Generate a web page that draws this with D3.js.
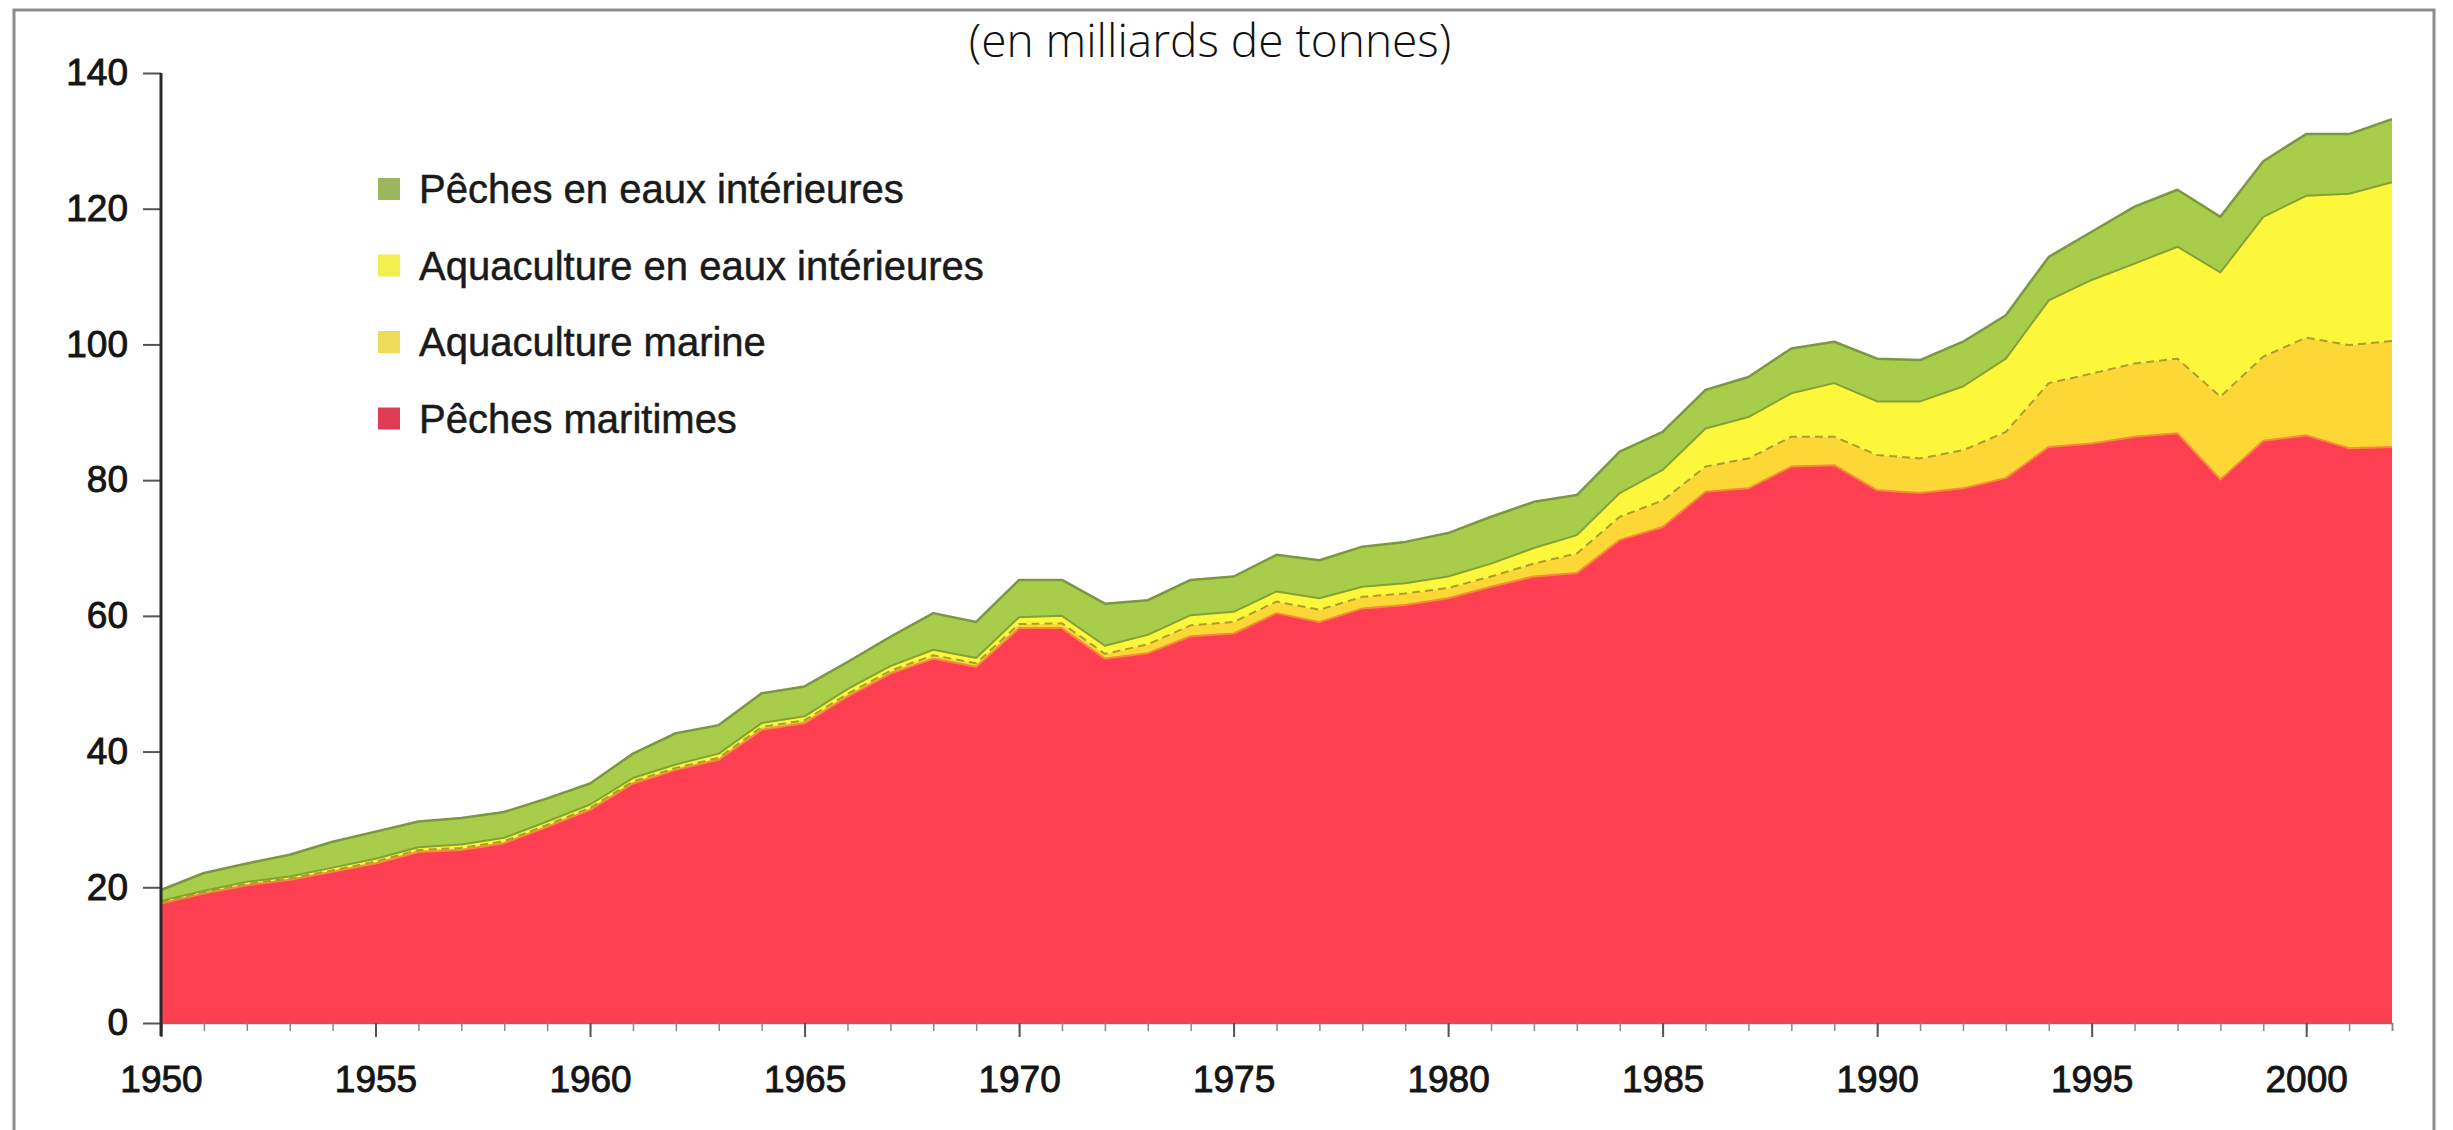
<!DOCTYPE html>
<meta charset="utf-8">
<html>
<style>
	body {
		margin: 0;
		background: #fff;
	}

	.axis text {
		font-family: "Liberation Sans", Arial, sans-serif;
		font-size: 37px;
		fill: #151515;
		stroke: #151515;
		stroke-width: 0.9px;
	}

	.axis line {
		stroke: #555;
		stroke-width: 2px;
	}

	.legend text {
		font-family: "Liberation Sans", Arial, sans-serif;
		font-size: 40px;
		fill: #1a1a1a;
		stroke: #1a1a1a;
		stroke-width: 0.5px;
	}
</style>

<body>
	<script src="https://d3js.org/d3.v7.min.js"></script>
	<script type="text/javascript">
		// années
		var years = [1950, 1951, 1952, 1953, 1954, 1955, 1956, 1957, 1958, 1959,
			1960, 1961, 1962, 1963, 1964, 1965, 1966, 1967, 1968, 1969,
			1970, 1971, 1972, 1973, 1974, 1975, 1976, 1977, 1978, 1979,
			1980, 1981, 1982, 1983, 1984, 1985, 1986, 1987, 1988, 1989,
			1990, 1991, 1992, 1993, 1994, 1995, 1996, 1997, 1998, 1999,
			2000, 2001, 2002];

		// séries
		var pechesMaritimes = [17.6, 19.1, 20.3, 21.1, 22.3, 23.5, 25.2, 25.5, 26.5, 28.9,
			31.4, 35.3, 37.3, 38.8, 43.2, 44.2, 48.1, 51.5, 53.7, 52.5,
			58.2, 58.2, 53.7, 54.5, 57.0, 57.4, 60.4, 59.1, 61.1, 61.6,
			62.6, 64.3, 65.8, 66.3, 71.2, 73.1, 78.3, 78.8, 82.0, 82.2,
			78.5, 78.1, 78.8, 80.3, 84.9, 85.4, 86.4, 86.9, 80.1, 85.8,
			86.6, 84.7, 84.9];
		var aquacultureMarine = [0.2, 0.2, 0.2, 0.2, 0.2, 0.3, 0.3, 0.3, 0.3, 0.3,
			0.3, 0.3, 0.3, 0.3, 0.4, 0.4, 0.4, 0.4, 0.5, 0.5,
			0.6, 0.7, 0.7, 1.3, 1.6, 1.7, 1.7, 1.8, 1.7, 1.7,
			1.5, 1.5, 1.9, 2.9, 3.4, 3.9, 3.7, 4.4, 4.4, 4.2,
			5.2, 5.1, 5.6, 6.8, 9.4, 10.3, 10.8, 11.0, 12.2, 12.4,
			14.4, 15.2, 15.6];
		var aquacultureInterieure = [0.2, 0.2, 0.3, 0.3, 0.4, 0.4, 0.4, 0.5, 0.5, 0.5,
			0.5, 0.5, 0.5, 0.6, 0.6, 0.6, 0.7, 0.7, 0.8, 0.8,
			1.0, 1.1, 1.2, 1.4, 1.5, 1.5, 1.5, 1.7, 1.5, 1.5,
			1.7, 1.9, 2.3, 2.7, 3.5, 4.5, 5.6, 6.1, 6.4, 7.9,
			7.9, 8.4, 9.4, 10.8, 12.2, 13.8, 14.7, 16.5, 18.3, 20.6,
			20.9, 22.3, 23.4];
		var pechesInterieures = [1.6, 2.6, 2.7, 3.2, 3.8, 4.0, 3.8, 3.9, 3.8, 3.4,
			3.1, 3.6, 4.6, 4.2, 4.4, 4.4, 4.0, 4.3, 5.4, 5.3,
			5.5, 5.3, 6.2, 5.1, 5.2, 5.2, 5.4, 5.6, 5.9, 6.1,
			6.4, 6.9, 6.8, 5.9, 6.1, 5.6, 5.7, 5.9, 6.6, 6.1,
			6.3, 6.1, 6.6, 6.4, 6.4, 7.1, 8.4, 8.4, 8.2, 8.2,
			9.1, 8.8, 9.3];

		var seriesKeys = ["pm", "am", "ai", "pi"];
		var seriesNames = ["Pêches maritimes", "Aquaculture marine", "Aquaculture en eaux intérieures", "Pêches en eaux intérieures"];
		var legendOrder = ["pi", "ai", "am", "pm"];

		var yTickValues = [0, 20, 40, 60, 80, 100, 120, 140];
		var xTickLabels = [1950, 1955, 1960, 1965, 1970, 1975, 1980, 1985, 1990, 1995, 2000];

		var fillColors = { pm: "#fe3f51", am: "#fcd736", ai: "#fdf73c", pi: "#a8cd4a" };
		var edgeColors = { pm: "#f48a3c", am: "#a99f2a", ai: "#86a133", pi: "#7d9640" };
		var legendColors = { pm: "#e13a55", am: "#ecdc58", ai: "#f2ee4e", pi: "#9db55c" };

		var width = 2453,
			height = 1130;

		var svg = d3.select("body")
			.append("svg")
			.attr("width", width)
			.attr("height", height);

		// cadre
		svg.append("rect")
			.attr("x", 14)
			.attr("y", 10)
			.attr("width", 2420)
			.attr("height", 1200)
			.attr("fill", "none")
			.attr("stroke", "#8c8c8c")
			.attr("stroke-width", 3);

		// titre
		svg.append("text")
			.attr("x", 1210)
			.attr("y", 57)
			.attr("text-anchor", "middle")
			.style("font-family", "'Open Sans', sans-serif")
			.style("font-weight", 300)
			.style("font-size", "46px")
			.style("fill", "#111")
			.text("(en milliards de tonnes)");

		var x = d3.scaleLinear().domain([1950, 2002]).range([161, 2392]);
		var y = d3.scaleLinear().domain([0, 140]).range([1023, 73]);

		var table = years.map(function (yr, i) {
			return {
				year: yr,
				pm: pechesMaritimes[i],
				am: aquacultureMarine[i],
				ai: aquacultureInterieure[i],
				pi: pechesInterieures[i]
			};
		});

		var stacked = d3.stack().keys(seriesKeys)(table);

		var area = d3.area()
			.x(function (d) { return x(d.data.year); })
			.y0(function (d) { return y(d[0]); })
			.y1(function (d) { return y(d[1]); });

		var topLine = d3.line()
			.x(function (d) { return x(d.data.year); })
			.y(function (d) { return y(d[1]); });

		svg.append("g").selectAll("path")
			.data(stacked)
			.enter().append("path")
			.attr("d", area)
			.attr("fill", function (d) { return fillColors[d.key]; });

		svg.append("g").selectAll("path")
			.data(stacked)
			.enter().append("path")
			.attr("d", topLine)
			.attr("fill", "none")
			.attr("stroke", function (d) { return edgeColors[d.key]; })
			.attr("stroke-width", function (d) { return d.key == "pi" ? 2.5 : 2; })
			.attr("stroke-dasharray", function (d) { return d.key == "am" ? "8,5" : null; })
			.attr("stroke-linejoin", "round");

		// axe X : petites graduations chaque année
		svg.append("g")
			.attr("class", "axis")
			.attr("transform", "translate(0," + y(0) + ")")
			.call(d3.axisBottom(x).tickValues(years).tickSize(8).tickFormat(""))
			.call(function (g) { g.select(".domain").attr("stroke", "#777").attr("stroke-width", 1.5); })
			.selectAll("line").style("stroke-width", "1.5px").style("stroke", "#888");

		svg.append("g")
			.attr("class", "axis")
			.attr("transform", "translate(0," + y(0) + ")")
			.call(d3.axisBottom(x).tickValues(xTickLabels).tickSize(14).tickPadding(29).tickFormat(d3.format("d")))
			.call(function (g) { g.select(".domain").remove(); });

		// axe Y
		svg.append("g")
			.attr("class", "axis")
			.attr("transform", "translate(" + x(1950) + ",0)")
			.call(d3.axisLeft(y).tickValues(yTickValues).tickSize(18).tickPadding(15))
			.call(function (g) { g.select(".domain").remove(); });

		svg.append("line")
			.attr("x1", x(1950))
			.attr("x2", x(1950))
			.attr("y1", y(140))
			.attr("y2", y(0) + 13)
			.attr("stroke", "#2a2a2a")
			.attr("stroke-width", 3);

		// légende
		var legend = svg.append("g")
			.attr("class", "legend")
			.selectAll("g")
			.data(legendOrder)
			.enter().append("g")
			.attr("transform", function (d, i) { return "translate(378," + (189 + i * 76.5) + ")"; });

		legend.append("rect")
			.attr("x", 0)
			.attr("y", -11)
			.attr("width", 22)
			.attr("height", 22)
			.attr("fill", function (d) { return legendColors[d]; });

		legend.append("text")
			.attr("x", 41)
			.attr("y", 0)
			.attr("dy", "0.36em")
			.text(function (d) { return seriesNames[seriesKeys.indexOf(d)]; });
	</script>
</body>

</html>
